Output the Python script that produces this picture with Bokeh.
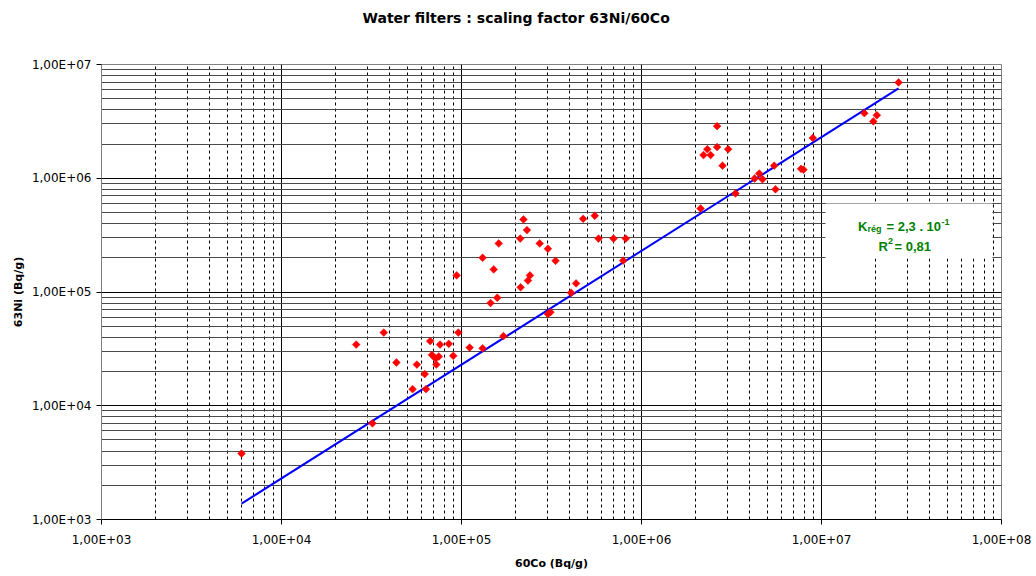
from bokeh.plotting import figure
from bokeh.models import FixedTicker, Label, BoxAnnotation, ColumnDataSource, Title
from bokeh.embed import file_html
from bokeh.resources import INLINE
import math

# ---- data ----
co60 = [6.0e3, 2.6e4, 3.2e4, 3.7e4, 4.35e4, 5.35e4, 5.65e4, 6.25e4, 6.35e4, 6.7e4,
        6.85e4, 7.17e4, 7.48e4, 7.25e4, 7.6e4, 8.5e4, 9.0e4, 9.6e4, 1.11e5, 1.31e5,
        1.71e5, 1.45e5, 1.58e5, 9.4e4, 1.31e5, 1.51e5, 1.61e5, 2.13e5, 2.34e5, 2.40e5,
        2.21e5, 2.31e5, 2.12e5, 2.72e5, 3.02e5, 3.33e5, 3.02e5, 3.12e5, 4.06e5, 4.33e5,
        4.74e5, 5.5e5, 5.77e5, 6.99e5, 8.18e5, 7.91e5, 2.63e6, 2.32e6, 2.21e6, 2.42e6,
        2.63e6, 3.03e6, 2.82e6, 2.13e6, 3.33e6, 4.25e6, 4.51e6, 4.70e6, 5.46e6, 5.55e6,
        7.94e6, 7.7e6, 8.95e6, 1.73e7, 2.03e7, 1.94e7, 2.68e7]
ni63 = [3.8e3, 3.45e4, 7.0e3, 4.4e4, 2.4e4, 1.4e4, 2.3e4, 1.9e4, 1.4e4, 3.7e4,
        2.8e4, 2.6e4, 2.71e4, 2.3e4, 3.45e4, 3.5e4, 2.75e4, 4.4e4, 3.25e4, 3.2e4,
        4.1e4, 8.0e4, 8.9e4, 1.4e5, 2.0e5, 1.58e5, 2.67e5, 1.1e5, 1.26e5, 1.40e5,
        4.34e5, 3.5e5, 2.95e5, 2.67e5, 2.4e5, 1.88e5, 6.4e4, 6.65e4, 9.85e4, 1.19e5,
        4.4e5, 4.68e5, 2.95e5, 2.95e5, 2.95e5, 1.89e5, 2.87e6, 1.8e6, 1.6e6, 1.6e6,
        1.88e6, 1.8e6, 1.29e6, 5.42e5, 7.35e5, 9.95e5, 1.10e6, 9.8e5, 1.29e6, 8.0e5,
        1.19e6, 1.21e6, 2.26e6, 3.73e6, 3.58e6, 3.16e6, 6.95e6]
k_reg = 0.23  # regression factor K = 2,3 . 10^-1

x_major = [1e3, 1e4, 1e5, 1e6, 1e7, 1e8]
x_labels = ["1,00E+03", "1,00E+04", "1,00E+05", "1,00E+06", "1,00E+07", "1,00E+08"]
y_major = [1e3, 1e4, 1e5, 1e6, 1e7]
y_labels = ["1,00E+03", "1,00E+04", "1,00E+05", "1,00E+06", "1,00E+07"]
minor_mult = [2, 3, 4, 5, 6, 7, 8, 9]

title_text = "Water filters : scaling factor 63Ni/60Co"
x_title = "60Co (Bq/g)"
y_title = "63Ni (Bq/g)"

x_minor = [m * t for t in x_major[:-1] for m in minor_mult]
y_minor = [m * t for t in y_major[:-1] for m in minor_mult]

fit_x = [min(co60), max(co60)]
fit_y = [k_reg * v for v in fit_x]

p = figure(width=1036, height=576, x_axis_type="log", y_axis_type="log",
           x_range=(x_major[0], x_major[-1]), y_range=(y_major[0], y_major[-1]),
           output_backend="svg", toolbar_location=None,
           min_border_left=101, min_border_right=35, min_border_top=64, min_border_bottom=57)
p.background_fill_color = "white"
p.border_fill_color = "white"
p.outline_line_color = "#808080"

# title: spacer below it so it sits near the top of the canvas
p.add_layout(Title(text=" ", text_font_size="20px"), "above")
p.title.text = title_text
p.title.align = "left"
p.title.offset = 261
p.title.text_font = "DejaVu Sans"
p.title.text_font_style = "bold"
p.title.text_font_size = "14px"
p.title.text_color = "black"

p.xaxis.ticker = FixedTicker(ticks=x_major, minor_ticks=x_minor)
p.yaxis.ticker = FixedTicker(ticks=y_major, minor_ticks=y_minor)
p.xaxis.major_label_overrides = {t: l for t, l in zip(x_major, x_labels)}
p.yaxis.major_label_overrides = {t: l for t, l in zip(y_major, y_labels)}

for ax in (p.xaxis, p.yaxis):
    ax.major_tick_out = 5
    ax.major_tick_in = 0
    ax.minor_tick_out = 0
    ax.minor_tick_in = 0
    ax.major_label_text_font = "DejaVu Sans"
    ax.major_label_text_font_size = "12px"
    ax.major_label_text_color = "black"
    ax.axis_label_text_font = "DejaVu Sans"
    ax.axis_label_text_font_style = "bold"
    ax.axis_label_text_font_size = "11px"
    ax.axis_label_text_color = "black"
    ax.major_tick_line_color = "black"

p.xaxis.axis_line_color = "black"
p.yaxis.axis_line_color = "#808080"
p.xaxis.axis_label = x_title
p.yaxis.axis_label = y_title
p.xaxis.major_label_standoff = 8
p.yaxis.major_label_standoff = 5
p.xaxis.axis_label_standoff = 7
p.yaxis.axis_label_standoff = 4

p.xgrid.grid_line_color = "black"
p.xgrid.minor_grid_line_color = "black"
p.xgrid.minor_grid_line_dash = "3 3"
p.ygrid.grid_line_color = "black"
p.ygrid.minor_grid_line_color = "#4a4a4a"

p.line(fit_x, fit_y, line_color="#0000ff", line_width=2)
src = ColumnDataSource(dict(x=co60, y=ni63))
p.scatter("x", "y", source=src, marker="square", angle=math.pi / 4, size=5.5,
          fill_color="#ff0000", line_color="#ff0000", line_width=0.5)

# annotation box
p.add_layout(BoxAnnotation(left=724, right=891, bottom=261, top=316,
                           left_units="screen", right_units="screen",
                           top_units="screen", bottom_units="screen",
                           fill_color="white", fill_alpha=1.0, line_color=None))
green = "#008000"
def lab(x, y, text, size):
    p.add_layout(Label(x=x, y=y, x_units="screen", y_units="screen", text=text,
                       text_font="Liberation Sans", text_font_style="bold",
                       text_font_size=size, text_color=green,
                       text_align="left", text_baseline="alphabetic"))
lab(756.5, 293, "K", "13px")
lab(766, 290.5, "rég", "9px")
lab(785, 293, "= 2,3 . 10", "13px")
lab(840, 298, "-1", "9px")
lab(777, 273, "R", "13px")
lab(786.5, 278.5, "2", "9px")
lab(793, 273, "= 0,81", "13px")

open("out.html", "w").write(file_html(p, INLINE))
